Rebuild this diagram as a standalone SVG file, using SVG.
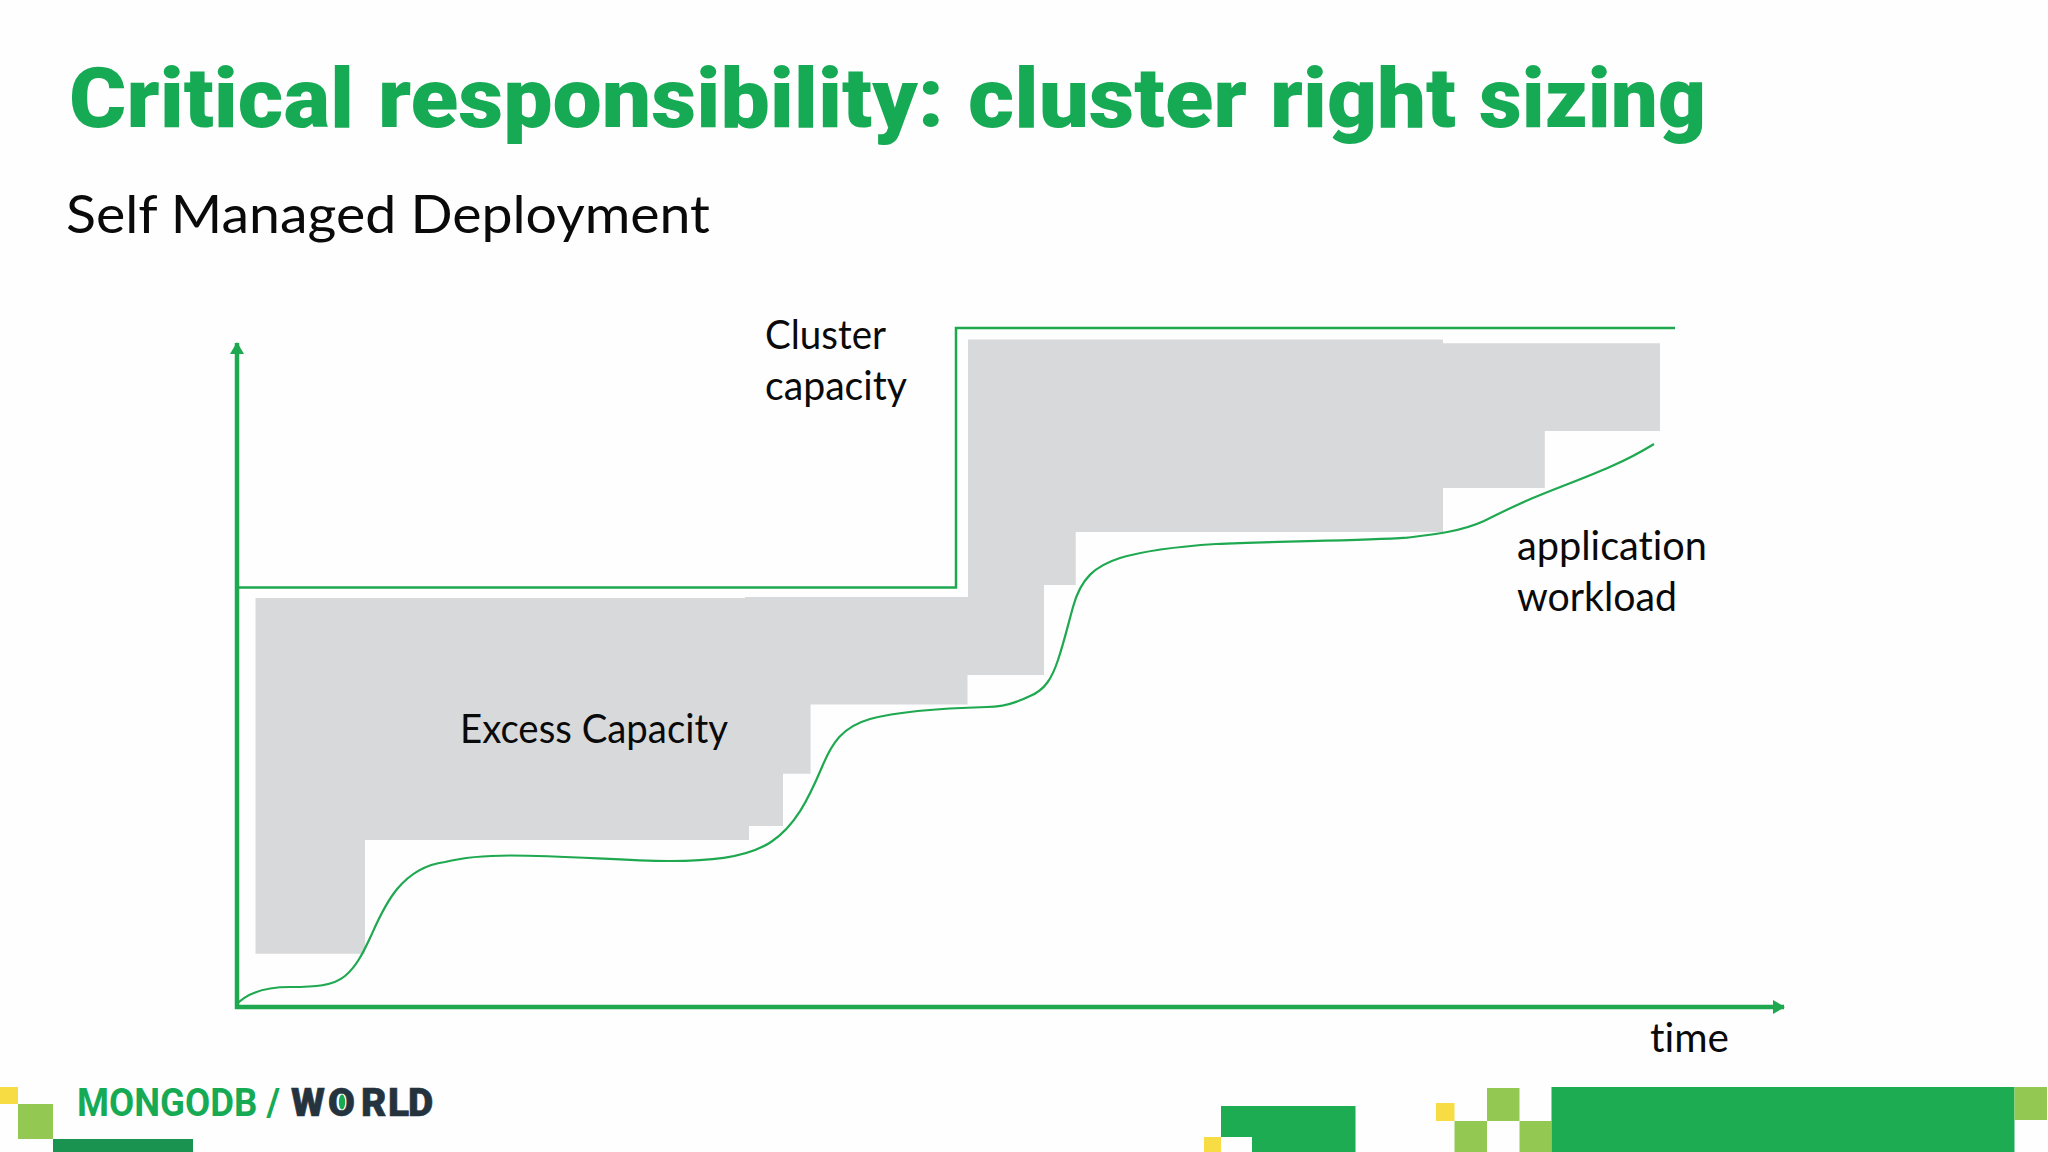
<svg xmlns="http://www.w3.org/2000/svg" width="2048" height="1152" viewBox="0 0 2048 1152">
<style>
.t{font-family:"Lato","Liberation Sans",sans-serif;fill:#0a0a0a;font-variant-ligatures:none}
.lab{font-size:41px}
.g{fill:#1dac52}.l{fill:#93c952}.y{fill:#f8dc44}
.ln{fill:none;stroke:#1ea850;stroke-linejoin:miter}
.logo{font-family:"Roboto","Liberation Sans",sans-serif;font-weight:700;font-size:39px}
</style>
<defs>
<marker id="ah" viewBox="0 0 12 14" refX="11" refY="7" markerWidth="12" markerHeight="14" markerUnits="userSpaceOnUse" orient="auto"><path d="M0 0L12 7L0 14z" fill="#1ea850"/></marker>
</defs>
<rect width="2048" height="1152" fill="#fefefe"/>
<g id="title"><text y="127" font-family="Roboto,'Liberation Sans',sans-serif" font-weight="900" font-size="84" fill="#17aa55"><tspan x="69" textLength="285" lengthAdjust="spacingAndGlyphs">Critical</tspan> <tspan x="378" textLength="566" lengthAdjust="spacingAndGlyphs">responsibility:</tspan> <tspan x="968" textLength="279" lengthAdjust="spacingAndGlyphs">cluster</tspan> <tspan x="1270" textLength="186" lengthAdjust="spacingAndGlyphs">right</tspan> <tspan x="1479" textLength="227" lengthAdjust="spacingAndGlyphs">sizing</tspan></text></g>
<g id="subtitle"><text class="t" x="66" y="233" font-size="53" textLength="644" lengthAdjust="spacingAndGlyphs">Self Managed Deployment</text></g>
<g id="excess-capacity">
<path fill="#d8d9db" d="M255.500 598H745V597H968V339.500H1443V343.300H1660V431H1544.800V488H1443V532H1075.700V585H1044V675H967.500V704.500H810.600V773.700H783V826H749V840H365V953.700H255.500Z"/>
<text class="t lab" x="460" y="743" textLength="268" lengthAdjust="spacingAndGlyphs">Excess Capacity</text>
</g>
<g id="connectors">
<path id="y-axis" class="ln" stroke-width="4.500" d="M237 1009V343" marker-end="url(#ah)"/>
<path id="x-axis" class="ln" stroke-width="4.500" d="M235 1007H1784" marker-end="url(#ah)"/>
<path id="cluster-capacity-line" class="ln" stroke-width="2.500" d="M237 587.500H956V328H1675"/>
<path id="workload-line" class="ln" stroke-width="2.200" d="M236 1005C246 994 262 987 290 987C315 987 333 986 345 976C356 967 363 953 370 938C382 912 398 868 445 862C465 857 490 855.500 510 855.500C570 855.500 620 861 669 861C705 861 745 859 771 842C795 826 808 800 822 767C832 743 842 727 870 719C900 711 950 708 987 707C1005 707 1020 701 1030 696C1045 690 1052 678 1058 660C1064 642 1068 625 1073 607C1081 578 1095 566 1120 558C1150 549 1185 546 1216 544C1280 541 1360 541 1407 537.700C1430 535 1460 532 1484 521C1498 514 1510 508 1526 501C1570 482 1612 470 1654 444"/>
</g>
<g id="label-cluster-capacity"><text class="t lab" x="765" y="349" textLength="121" lengthAdjust="spacingAndGlyphs">Cluster</text><text class="t lab" x="765" y="400" textLength="142" lengthAdjust="spacingAndGlyphs">capacity</text></g>
<g id="label-application-workload"><text class="t lab" x="1517" y="560" textLength="190" lengthAdjust="spacingAndGlyphs">application</text><text class="t lab" x="1517" y="611" textLength="160" lengthAdjust="spacingAndGlyphs">workload</text></g>
<g id="label-time"><text class="t lab" x="1650" y="1052" textLength="79" lengthAdjust="spacingAndGlyphs">time</text></g>
<g id="footer-left">
<rect class="y" x="0" y="1087" width="18" height="17"/>
<rect class="l" x="18" y="1104" width="35" height="35"/>
<rect x="53" y="1139" width="140" height="13" fill="#1a9350"/>
<text class="logo" x="77" y="1116" fill="#17aa55" textLength="203" lengthAdjust="spacingAndGlyphs">MONGODB /</text>
<text class="logo" y="1116" fill="#25333f" stroke="#25333f" stroke-width="0.600" style="font-weight:900" x="291 328 361 388 408">WORLD</text>
<ellipse cx="342" cy="1102" rx="3.200" ry="7.500" fill="#17aa55"/>
</g>
<g id="footer-right">
<rect class="y" x="1204" y="1137" width="17" height="15"/>
<path class="g" d="M1221 1106H1355.500V1152H1252V1137H1221Z"/>
<rect class="y" x="1436" y="1103" width="18.500" height="18"/>
<rect class="l" x="1487" y="1088" width="32.500" height="33"/>
<rect class="l" x="1454.500" y="1121" width="32.500" height="31"/>
<rect class="l" x="1519.500" y="1121" width="32" height="31"/>
<rect class="g" x="1551.500" y="1087" width="463" height="65"/>
<rect class="l" x="2014.500" y="1087" width="32.500" height="33"/>
</g>
</svg>
